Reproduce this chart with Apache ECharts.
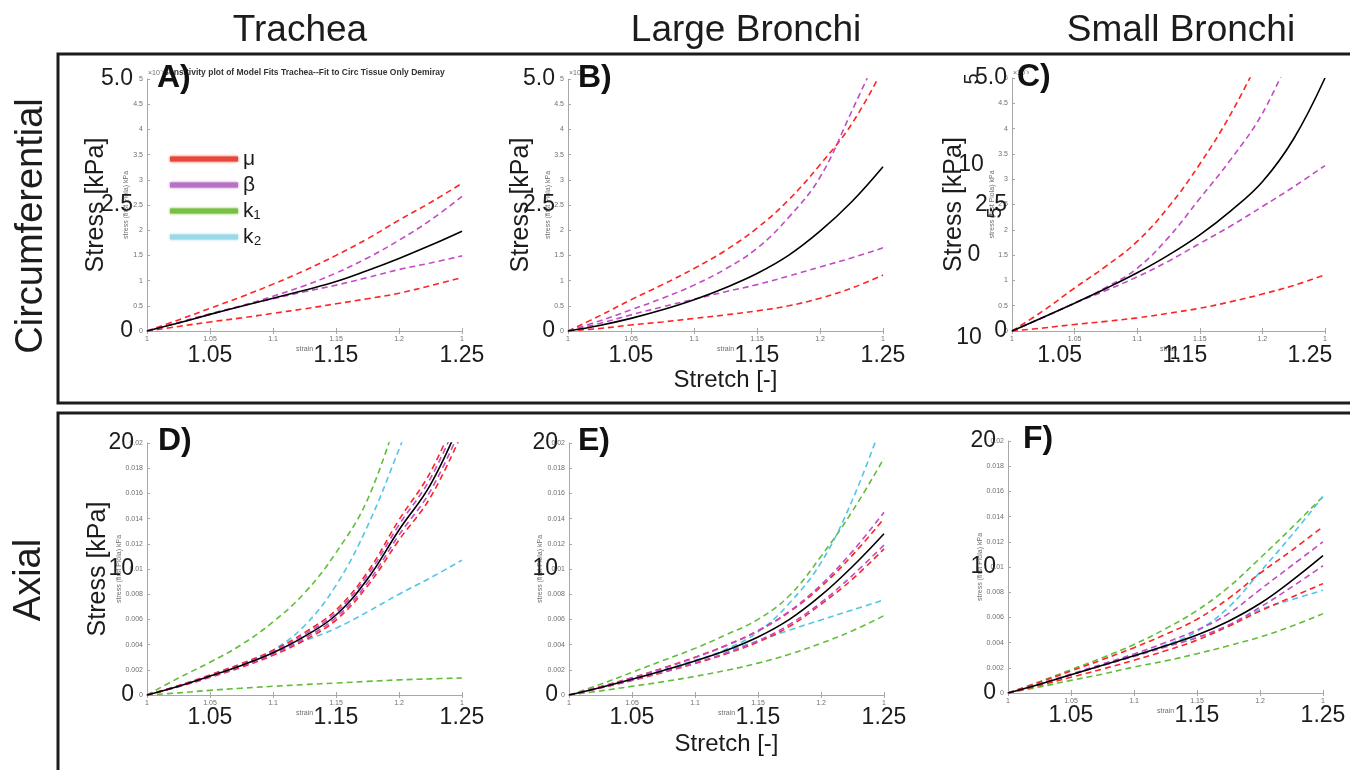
<!DOCTYPE html>
<html>
<head>
<meta charset="utf-8">
<script src="https://cdn.jsdelivr.net/npm/echarts@6/dist/echarts.min.js"></script>
<style>
  html, body { margin: 0; padding: 0; background: #ffffff; }
  #chart { width: 1350px; height: 770px; }
</style>
</head>
<body>
<div id="chart"></div>
<script>
// Stretch samples shared by every curve
const stretch = [1, 1.025, 1.05, 1.075, 1.1, 1.125, 1.15, 1.175, 1.2, 1.225, 1.25];

// Tick labels
const bigStretchLabels = ['1.05', '1.15', '1.25'];
const circStressLabels = ['0', '2.5', '5.0'];
const axialStressLabels = ['0', '10', '20'];

// Circumferential, trachea (A)
const aFit      = [0, 0.16, 0.33, 0.49, 0.65, 0.81, 0.98, 1.2, 1.44, 1.7, 1.98];
const aMuHigh   = [0, 0.22, 0.45, 0.68, 0.93, 1.2, 1.5, 1.83, 2.2, 2.55, 2.93];
const aMuLow    = [0, 0.09, 0.18, 0.26, 0.35, 0.44, 0.54, 0.64, 0.75, 0.9, 1.06];
const aBetaHigh = [0, 0.16, 0.33, 0.5, 0.69, 0.9, 1.15, 1.45, 1.8, 2.2, 2.67];
const aBetaLow  = [0, 0.17, 0.34, 0.5, 0.64, 0.78, 0.91, 1.06, 1.22, 1.35, 1.49];

// Circumferential, large bronchi (B)
const bFit      = [0, 0.11, 0.25, 0.42, 0.62, 0.86, 1.14, 1.5, 1.98, 2.56, 3.26];
const bMuHigh   = [0, 0.3, 0.62, 0.92, 1.24, 1.6, 2.04, 2.6, 3.3, 4.1, 5.2];
const bMuLow    = [0, 0.05, 0.12, 0.18, 0.25, 0.32, 0.4, 0.5, 0.65, 0.85, 1.11];
const bBetaHigh = [0, 0.2, 0.42, 0.65, 0.91, 1.23, 1.64, 2.25, 3.05, 4.35, 5.7];
const bBetaLow  = [0, 0.15, 0.32, 0.48, 0.63, 0.78, 0.92, 1.09, 1.27, 1.45, 1.65];

// Circumferential, small bronchi (C)
const cFit      = [0, 0.27, 0.55, 0.84, 1.15, 1.5, 1.9, 2.38, 2.95, 3.8, 5.0];
const cMuHigh   = [0, 0.4, 0.85, 1.28, 1.77, 2.45, 3.3, 4.3, 5.5];
const cMuLow    = [0, 0.06, 0.13, 0.19, 0.26, 0.35, 0.45, 0.58, 0.73, 0.9, 1.11];
const cBetaHigh = [0, 0.27, 0.55, 0.86, 1.24, 1.85, 2.62, 3.4, 4.3, 5.6];
const cBetaLow  = [0, 0.27, 0.55, 0.8, 1.07, 1.38, 1.73, 2.08, 2.46, 2.85, 3.27];

// Axial, trachea (D)
const dFit      = [0, 0.7, 1.5, 2.35, 3.35, 4.65, 6.35, 9.2, 13.1, 16.7, 22.0];
const dMuHigh   = [0, 0.75, 1.6, 2.5, 3.55, 4.95, 6.75, 9.75, 13.9, 17.7, 23.2];
const dMuLow    = [0, 0.65, 1.4, 2.2, 3.15, 4.35, 5.95, 8.65, 12.3, 15.7, 20.8];
const dBetaHigh = [0, 0.72, 1.55, 2.42, 3.45, 4.8, 6.55, 9.5, 13.5, 17.2, 22.6];
const dBetaLow  = [0, 0.68, 1.45, 2.28, 3.25, 4.5, 6.15, 8.9, 12.7, 16.2, 21.4];
const dK1High   = [0, 1.35, 2.6, 4.0, 5.8, 8.1, 11.3, 15.5, 22.5];
const dK1Low    = [0, 0.17, 0.37, 0.54, 0.69, 0.83, 0.95, 1.08, 1.2, 1.28, 1.35];
const dK2High   = [0, 0.7, 1.5, 2.4, 3.55, 5.5, 8.7, 13.4, 19.5, 26.0];
const dK2Low    = [0, 0.7, 1.5, 2.4, 3.4, 4.3, 5.3, 6.6, 8.0, 9.3, 10.7];

// Axial, large bronchi (E)
const eFit      = [0, 0.6, 1.25, 1.95, 2.7, 3.55, 4.6, 6.0, 7.9, 10.2, 12.8];
const eMuHigh   = [0, 0.66, 1.37, 2.15, 3.0, 3.95, 5.1, 6.6, 8.6, 11.1, 14.0];
const eMuLow    = [0, 0.56, 1.15, 1.8, 2.5, 3.28, 4.2, 5.45, 7.2, 9.2, 11.6];
const eBetaHigh = [0, 0.65, 1.35, 2.12, 2.97, 3.93, 5.1, 6.65, 8.75, 11.4, 14.5];
const eBetaLow  = [0, 0.57, 1.18, 1.84, 2.55, 3.35, 4.3, 5.6, 7.35, 9.5, 11.9];
const eK1High   = [0, 0.85, 1.8, 2.75, 3.7, 4.8, 6.0, 7.9, 11.0, 14.6, 18.8];
const eK1Low    = [0, 0.33, 0.69, 1.06, 1.48, 1.96, 2.53, 3.23, 4.1, 5.1, 6.3];
const eK2High   = [0, 0.58, 1.2, 1.9, 2.7, 3.65, 5.0, 7.3, 10.5, 15.5, 22.0];
const eK2Low    = [0, 0.62, 1.27, 1.98, 2.75, 3.5, 4.3, 5.15, 5.96, 6.75, 7.55];

// Axial, small bronchi (F)
const fFit      = [0, 0.7, 1.45, 2.2, 2.95, 3.75, 4.6, 5.7, 7.1, 8.9, 10.9];
const fMuHigh   = [0, 0.85, 1.75, 2.65, 3.6, 4.65, 5.85, 7.5, 9.5, 11.3, 13.2];
const fMuLow    = [0, 0.6, 1.25, 1.9, 2.6, 3.35, 4.2, 5.3, 6.5, 7.6, 8.68];
const fBetaHigh = [0, 0.72, 1.5, 2.3, 3.1, 4.0, 5.0, 6.3, 8.2, 10.1, 12.0];
const fBetaLow  = [0, 0.7, 1.45, 2.18, 2.9, 3.65, 4.4, 5.4, 6.8, 8.4, 10.1];
const fK1High   = [0, 0.9, 1.85, 2.8, 3.85, 5.1, 6.55, 8.4, 10.7, 13.1, 15.6];
const fK1Low    = [0, 0.48, 1.0, 1.5, 2.06, 2.55, 3.12, 3.75, 4.44, 5.3, 6.3];
const fK2High   = [0, 0.7, 1.45, 2.2, 2.95, 3.8, 4.9, 6.8, 9.6, 12.5, 15.6];
const fK2Low    = [0, 0.7, 1.45, 2.2, 2.95, 3.7, 4.4, 5.3, 6.6, 7.4, 8.15];

const FONT = '"Liberation Sans", Arial, Helvetica, sans-serif';
const AXIS_GRAY = '#a8a8a8';
const LABEL_GRAY = '#6e6e6e';
const INK = '#1c1c1c';

const params = [
  { key: 'k1', name: 'k\u2081', color: '#62bd3a', legend: '#78c043' },
  { key: 'k2', name: 'k\u2082', color: '#52c5e8', legend: '#9ad9e8' },
  { key: 'mu', name: '\u03bc', color: '#ff2424', legend: '#e9473b' },
  { key: 'beta', name: '\u03b2', color: '#c24cc4', legend: '#b670c4' }
];

const panels = [
  { letter: 'A)', row: 'circ', grid: { left: 147, top: 79, width: 315, height: 252 },
    fit: aFit, curves: { mu: [aMuHigh, aMuLow], beta: [aBetaHigh, aBetaLow] },
    stressName: true, stressGap: 38, bigYMargin: 14, smallNameGap: 17, stretchName: false, bigXShift: 0,
    letterPos: [157, 62] },
  { letter: 'B)', row: 'circ', grid: { left: 568, top: 79, width: 315, height: 252 },
    fit: bFit, curves: { mu: [bMuHigh, bMuLow], beta: [bBetaHigh, bBetaLow] },
    stressName: true, stressGap: 34, bigYMargin: 13, smallNameGap: 16, stretchName: true, bigXShift: 0,
    letterPos: [578, 62] },
  { letter: 'C)', row: 'circ', grid: { left: 1012, top: 78, width: 313, height: 253 },
    fit: cFit, curves: { mu: [cMuHigh, cMuLow], beta: [cBetaHigh, cBetaLow] },
    stressName: true, stressGap: 45, bigYMargin: 5, smallNameGap: 16, stretchName: false, bigXShift: 15,
    letterPos: [1017, 61] },
  { letter: 'D)', row: 'axial', grid: { left: 147, top: 443, width: 315, height: 252 },
    fit: dFit, curves: { k1: [dK1High, dK1Low], k2: [dK2High, dK2Low], mu: [dMuHigh, dMuLow], beta: [dBetaHigh, dBetaLow] },
    stressName: true, stressGap: 36, bigYMargin: 13, smallNameGap: 24, stretchName: false, bigXShift: 0,
    letterPos: [158, 425] },
  { letter: 'E)', row: 'axial', grid: { left: 569, top: 443, width: 315, height: 252 },
    fit: eFit, curves: { k1: [eK1High, eK1Low], k2: [eK2High, eK2Low], mu: [eMuHigh, eMuLow], beta: [eBetaHigh, eBetaLow] },
    stressName: false, stressGap: 36, bigYMargin: 11, smallNameGap: 25, stretchName: true, bigXShift: 0,
    letterPos: [578, 425] },
  { letter: 'F)', row: 'axial', grid: { left: 1008, top: 441, width: 315, height: 252 },
    fit: fFit, curves: { k1: [fK1High, fK1Low], k2: [fK2High, fK2Low], mu: [fMuHigh, fMuLow], beta: [fBetaHigh, fBetaLow] },
    stressName: false, stressGap: 36, bigYMargin: 12, smallNameGap: 24, stretchName: false, bigXShift: 0,
    letterPos: [1023, 423] }
];

const pairs = arr => arr.map((v, i) => [stretch[i], v]);

const grids = [], xAxes = [], yAxes = [], series = [];

panels.forEach((p, i) => {
  const circ = p.row === 'circ';
  grids.push(Object.assign({ containLabel: false }, p.grid));

  const xBase = { gridIndex: i, type: 'value', min: 1, max: 1.25, interval: 0.05, splitLine: { show: false } };
  // strain axis with small tick labels
  xAxes.push(Object.assign({}, xBase, {
    position: 'bottom',
    axisLine: { show: true, lineStyle: { color: AXIS_GRAY, width: 1 } },
    axisTick: { show: true, inside: true, length: 3, lineStyle: { color: AXIS_GRAY } },
    axisLabel: {
      fontFamily: FONT, fontSize: 7, color: LABEL_GRAY, margin: 5,
      formatter: v => { const t = Math.round(v * 1000) / 1000; return t === 1.25 ? '1' : String(t); }
    },
    name: 'strain', nameLocation: 'middle', nameGap: 15, nameMoveOverlap: false,
    nameTextStyle: { fontFamily: FONT, fontSize: 7, color: LABEL_GRAY }
  }));
  // top frame line
  xAxes.push(Object.assign({}, xBase, {
    position: 'top',
    axisLine: { show: true, lineStyle: { color: AXIS_GRAY, width: 1 } },
    axisTick: { show: true, inside: true, length: 3, lineStyle: { color: AXIS_GRAY } },
    axisLabel: { show: false }
  }));
  // stretch axis with large labels
  xAxes.push(Object.assign({}, xBase, {
    position: 'bottom',
    axisLine: { show: false }, axisTick: { show: false },
    axisLabel: {
      fontFamily: FONT, fontSize: 23, color: INK, margin: circ ? 13 : 11,
      padding: [0, p.bigXShift * 2, 0, 0],
      formatter: v => { const s = v.toFixed(2); return bigStretchLabels.includes(s) ? s : ''; }
    },
    name: p.stretchName ? 'Stretch [-]' : '', nameLocation: 'middle', nameGap: 37, nameMoveOverlap: false,
    nameTextStyle: { fontFamily: FONT, fontSize: 24, color: INK }
  }));

  const yMax = circ ? 5 : 20;
  // stress axis with small tick labels
  yAxes.push({
    gridIndex: i, type: 'value', position: 'left', min: 0, max: yMax, interval: circ ? 0.5 : 2,
    splitLine: { show: false },
    axisLine: { show: true, lineStyle: { color: AXIS_GRAY, width: 1 } },
    axisTick: { show: true, inside: true, length: 3, lineStyle: { color: AXIS_GRAY } },
    axisLabel: {
      fontFamily: FONT, fontSize: 7, color: LABEL_GRAY, margin: 4,
      formatter: v => circ ? String(+v.toFixed(2)) : String(+(v / 1000).toFixed(3))
    },
    name: 'stress (first Piola) kPa', nameLocation: 'middle', nameGap: p.smallNameGap, nameMoveOverlap: false,
    nameTextStyle: { fontFamily: FONT, fontSize: 7, color: LABEL_GRAY }
  });
  // stress axis with large labels
  const bigStep = circ ? 2.5 : 10;
  const bigLabels = circ ? circStressLabels : axialStressLabels;
  yAxes.push({
    gridIndex: i, type: 'value', position: 'left', min: 0, max: yMax, interval: bigStep,
    splitLine: { show: false }, axisLine: { show: false }, axisTick: { show: false },
    axisLabel: {
      fontFamily: FONT, fontSize: 23, color: INK, margin: p.bigYMargin,
      formatter: v => bigLabels[Math.round(v / bigStep)]
    },
    name: p.stressName ? 'Stress [kPa]' : '', nameLocation: 'middle', nameGap: p.stressGap, nameMoveOverlap: false,
    nameTextStyle: { fontFamily: FONT, fontSize: 25, color: INK }
  });

  params.forEach(par => {
    const c = p.curves[par.key];
    if (!c) return;
    c.forEach(arr => {
      series.push({
        type: 'line', name: par.name, xAxisIndex: 3 * i, yAxisIndex: 2 * i,
        data: pairs(arr), smooth: 0.4, showSymbol: false, symbol: 'none', clip: true,
        lineStyle: { color: par.color, width: 1.6, type: [6, 4] },
        itemStyle: { color: par.color }, silent: true, z: 3
      });
    });
  });
  series.push({
    type: 'line', name: 'fit', xAxisIndex: 3 * i, yAxisIndex: 2 * i,
    data: pairs(p.fit), smooth: 0.4, showSymbol: false, symbol: 'none', clip: true,
    lineStyle: { color: '#000000', width: 1.6 }, itemStyle: { color: '#000000' }, silent: true, z: 4
  });
});

const txt = (text, x, y, size, extra) => ({
  type: 'text', x: x, y: y, z: 20, silent: true,
  style: Object.assign({
    text: text, font: size + 'px ' + FONT, fill: INK,
    textAlign: 'left', textVerticalAlign: 'top', align: 'left', verticalAlign: 'top'
  }, extra || {})
});

const centered = { textAlign: 'center', align: 'center', textVerticalAlign: 'middle', verticalAlign: 'middle' };

const graphics = [
  // row frames
  { type: 'rect', z: 1, silent: true, shape: { x: 58, y: 54, width: 1320, height: 349 },
    style: { fill: 'none', stroke: INK, lineWidth: 3 } },
  { type: 'rect', z: 1, silent: true, shape: { x: 58, y: 413, width: 1320, height: 400 },
    style: { fill: 'none', stroke: INK, lineWidth: 3 } },
  // column titles
  txt('Trachea', 300, 31, 37, centered),
  txt('Large Bronchi', 746, 31, 37, centered),
  txt('Small Bronchi', 1181, 31, 37, centered),
  // row titles
  Object.assign(txt('Circumferential', 32, 226, 38, centered), { rotation: Math.PI / 2 }),
  Object.assign(txt('Axial', 30, 580, 38, centered), { rotation: Math.PI / 2 }),
  // MATLAB figure title and exponent marks
  txt('Sensitivity plot of Model Fits Trachea--Fit to Circ Tissue Only Demiray', 304, 73, 8.5,
      Object.assign({}, centered, { font: 'bold 8.5px ' + FONT, fill: '#333333' })),
  txt('\u00d710\u207b\u00b3', 148, 70, 7, { fill: LABEL_GRAY }),
  txt('\u00d710\u207b\u00b3', 569, 70, 7, { fill: LABEL_GRAY }),
  txt('\u00d710\u207b\u00b3', 1013, 70, 7, { fill: LABEL_GRAY }),
  // stray labels around panel C
  Object.assign(txt('5', 972, 79, 20, centered), { rotation: Math.PI / 2 }),
  txt('10', 971, 165, 23, centered),
  Object.assign(txt('5', 995, 213, 20, centered), { rotation: Math.PI / 2 }),
  txt('0', 974, 255, 23, centered),
  txt('10', 969, 338, 23, centered),
  txt('1', 1175, 354, 18, centered)
];

panels.forEach(p => {
  graphics.push(txt(p.letter, p.letterPos[0], p.letterPos[1], 32, { font: 'bold 32px ' + FONT, fill: '#111111' }));
});

const option = {
  animation: false,
  backgroundColor: '#ffffff',
  textStyle: { fontFamily: FONT },
  grid: grids,
  xAxis: xAxes,
  yAxis: yAxes,
  legend: {
    data: [
      { name: '\u03bc', itemStyle: { color: params[2].legend, shadowBlur: 3, shadowColor: params[2].legend } },
      { name: '\u03b2', itemStyle: { color: params[3].legend, shadowBlur: 3, shadowColor: params[3].legend } },
      { name: 'k\u2081', itemStyle: { color: params[0].legend, shadowBlur: 3, shadowColor: params[0].legend } },
      { name: 'k\u2082', itemStyle: { color: params[1].legend, shadowBlur: 3, shadowColor: params[1].legend } }
    ],
    orient: 'vertical', left: 165, top: 143, icon: 'rect',
    itemWidth: 68, itemHeight: 5, itemGap: 4, selectedMode: false,
    textStyle: { fontFamily: FONT, fontSize: 21, color: INK, lineHeight: 22 }
  },
  graphic: { elements: graphics },
  series: series
};

const chart = echarts.init(document.getElementById('chart'), null, { renderer: 'canvas' });
chart.setOption(option);
</script>
</body>
</html>
